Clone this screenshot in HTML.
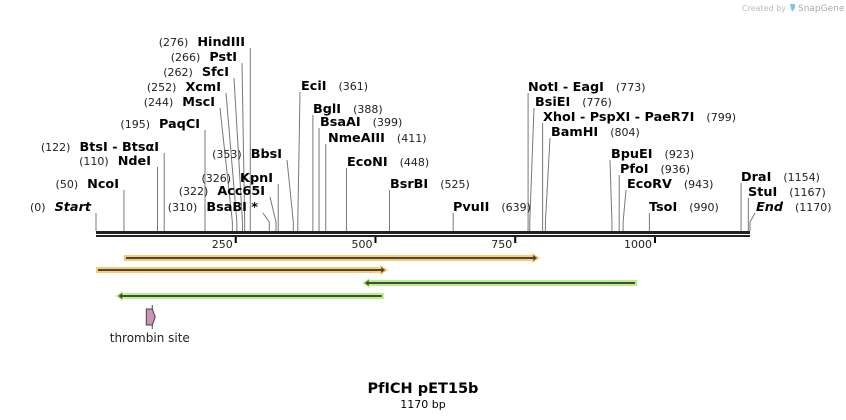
<!DOCTYPE html>
<html><head><meta charset="utf-8"><style>
html,body{margin:0;padding:0;background:#fff;}
svg{display:block;font-family:"DejaVu Sans","Liberation Sans",sans-serif;}
.n{font-weight:bold;font-size:12.8px;fill:#000}
.p{font-size:11px;fill:#222}
</style></head><body>
<svg id="map" width="846" height="420" viewBox="0 0 846 420">
<text x="786" y="11" font-size="8" fill="#bbb" text-anchor="end">Created by</text>
<path d="M790 4 h5 v4 l-3 4 z" fill="#7cc4ec"/>
<text x="798" y="11" font-size="9" fill="#aaa">SnapGene</text>
<g id="lines"></g><g id="labels"></g>
<rect x="96" y="231" width="654" height="3" fill="#222"/>
<rect x="96" y="235" width="654" height="2" fill="#222"/>
<g id="ticks"></g><g id="feats"></g>
<text x="423" y="393" text-anchor="middle" font-weight="bold" font-size="14.5">PfICH pET15b</text>
<text x="423" y="408" text-anchor="middle" font-size="11">1170 bp</text>
</svg>
<script>
const seqLen = 1170;
const siteNames = ["Start","NcoI","NdeI","BtsI - BtsαI","PaqCI","MscI","XcmI","SfcI","PstI","HindIII","BsaBI *","Acc65I","KpnI","BbsI","EciI","BglI","BsaAI","NmeAIII","EcoNI","BsrBI","PvuII","NotI - EagI","BsiEI","XhoI - PspXI - PaeR7I","BamHI","BpuEI","PfoI","EcoRV","TsoI","DraI","StuI","End"];
const sitePos = [0,50,110,122,195,244,252,262,266,276,310,322,326,353,361,388,399,411,448,525,639,773,776,799,804,923,936,943,990,1154,1167,1170];
const tickVals = [250,500,750,1000];
const featStart = [50,0,479,38];
const featEnd = [791,519,968,515];
const featDir = [1,1,-1,-1];
const thrombinStart = 90, thrombinEnd = 106;
const lay = [["L",96,211],["L",124,188],["L",156,165],["L",164,151],["L",205,128],["L",220,106],["L",226,91],["L",234,76],["L",242,61],["L",250,46],["L",263,211],["L",270,195],["L",278,182],["L",287,158],
["R",300,90],["R",312,113],["R",319,126],["R",327,142],["R",346,166],["R",389,188],["R",452,211],["R",527,91],["R",534,106],["R",542,121],["R",550,136],["R",610,158],["R",619,173],["R",626,188],["R",648,211],["R",740,181],["R",747,196],["R",755,211]];
const x0=96,x1=750;
const xs = bp => x0 + bp/seqLen*(x1-x0);
const NS="http://www.w3.org/2000/svg";
function mk(tag,attrs,parent){const e=document.createElementNS(NS,tag);for(const k in attrs)e.setAttribute(k,attrs[k]);parent.appendChild(e);return e;}
const gL=document.getElementById('lines'),gT=document.getElementById('labels'),gK=document.getElementById('ticks'),gF=document.getElementById('feats');
siteNames.forEach((nm,i)=>{
  const sx=xs(sitePos[i]);const [side,ax,by]=lay[i];
  const topY=by+2;
  const d = Math.abs(ax-sx)<1.5 ? `M${sx} ${topY} V231` : `M${ax} ${topY} L${sx} 222 V231`;
  const ln=mk('path',{d:d,stroke:'#777','stroke-width':1,fill:'none'},gL);
  
  
  const t=mk('text',{y:by},gT);
  
  
  const italic=(nm==="Start"||nm==="End");
  if(side==="L"){
    t.setAttribute('x',ax-5);t.setAttribute('text-anchor','end');
    const a=mk('tspan',{class:'p'},t);a.textContent='('+sitePos[i]+')';
    const b=mk('tspan',{class:'n',dx:9},t);b.textContent=nm;if(italic)b.setAttribute('font-style','italic');
  } else {
    t.setAttribute('x',ax+1);
    const b=mk('tspan',{class:'n'},t);b.textContent=nm;if(italic)b.setAttribute('font-style','italic');
    const a=mk('tspan',{class:'p',dx:12},t);a.textContent='('+sitePos[i]+')';
  }
});
tickVals.forEach(v=>{
  const x=xs(v);
  const r=mk('rect',{x:x-1,y:237,width:2,height:6,fill:'#000'},gK);
  
  
  const t=mk('text',{x:x-3,y:248,'text-anchor':'end','font-size':11,fill:'#222'},gK);
  t.textContent=v;
  
  
});
const rowY=[258,270,283,296];
featStart.forEach((s,i)=>{
  const a=xs(s),b=xs(featEnd[i]),y=rowY[i];
  const fill=featDir[i]>0?'#fbc978':'#b8f08c';
  const g=mk('g',{},gF);
  
  
  let d;
  if(featDir[i]>0) d=`M${a} ${y-3} H${b-6} V${y-5} L${b+2} ${y} L${b-6} ${y+5} V${y+3} H${a} Z`;
  else d=`M${b} ${y-3} H${a+6} V${y-5} L${a-2} ${y} L${a+6} ${y+5} V${y+3} H${b} Z`;
  mk('path',{d:d,fill:fill},g);
  let d2;
  if(featDir[i]>0) d2=`M${a+2} ${y-1} H${b-5} V${y-3} L${b-1} ${y} L${b-5} ${y+3} V${y+1} H${a+2} Z`;
  else d2=`M${b-2} ${y-1} H${a+5} V${y-3} L${a+1} ${y} L${a+5} ${y+3} V${y+1} H${b-2} Z`;
  mk('path',{d:d2,fill:'#4a4a3a'},g);
});
const ta=xs(thrombinStart),tb=xs(thrombinEnd);
const th=mk('path',{d:`M${ta} 309 H${tb-3} L${tb} 317 L${tb-3} 325 H${ta} Z`,fill:'#c994b4',stroke:'#444','stroke-width':1},gF);


mk('path',{d:`M${tb-3} 305 V309 M${tb-3} 325 V329`,stroke:'#444','stroke-width':1},gF);
const tt=mk('text',{x:(ta+tb)/2-1,y:342,'text-anchor':'middle','font-size':12,fill:'#222'},gF);
tt.textContent='thrombin site';


</script>
</body></html>
